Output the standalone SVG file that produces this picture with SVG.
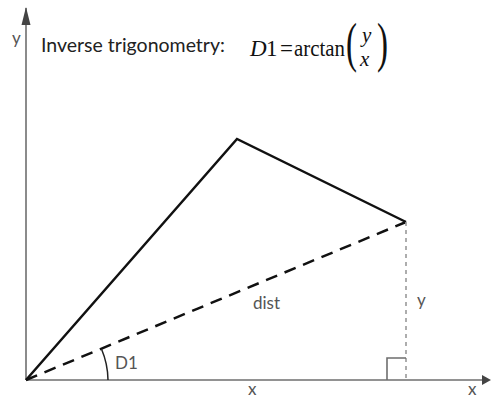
<svg xmlns="http://www.w3.org/2000/svg" width="492" height="400" viewBox="0 0 492 400">
<style>
.axis{stroke:#6e6e6e;stroke-width:1.6;fill:none}
.lbl{font-family:Lato,"Liberation Sans",sans-serif;font-size:17px;fill:#555}
.math{font-family:"Liberation Serif","Times New Roman",serif;fill:#111}
</style>
<rect width="492" height="400" fill="#fff"/>
<g id="axes">
<path class="axis" d="M26,380 L26,8"/>
<path d="M26,7 L21.5,25 L30.5,25 Z" fill="#444"/>
<path class="axis" d="M26,380 L484,380"/>
<path d="M491,380 L482,375 L482,385 Z" fill="#444"/>
<text class="lbl" x="12" y="44">y</text>
<text class="lbl" x="468" y="395">x</text>
</g>
<g id="title">
<text x="41" y="52" font-family="Lato,'Liberation Sans',sans-serif" font-size="19.5" fill="#222">Inverse trigonometry:</text>
<text class="math" x="250" y="56" font-size="23" font-style="italic">D</text>
<text class="math" x="266" y="56" font-size="23">1</text>
<text class="math" x="280" y="56" font-size="23">=</text>
<text class="math" x="294" y="56" font-size="23" textLength="51" lengthAdjust="spacingAndGlyphs">arctan</text>
<text class="math" x="346" y="61" font-size="55" transform="translate(346,0) scale(0.6,1) translate(-346,0)">(</text>
<text class="math" x="362" y="42" font-size="21" font-style="italic">y</text>
<text class="math" x="360" y="66" font-size="21" font-style="italic">x</text>
<text class="math" x="377" y="61" font-size="55" transform="translate(377,0) scale(0.6,1) translate(-377,0)">)</text>
</g>
<g id="connectors">
<path d="M26,380 L237,139 L406,222" fill="none" stroke="#111" stroke-width="2.5" stroke-linejoin="miter"/>
<path d="M26,380 L406,222" fill="none" stroke="#111" stroke-width="2.5" stroke-dasharray="12,8"/>
<path d="M406,222 L406,380" fill="none" stroke="#999" stroke-width="1.6" stroke-dasharray="4,4"/>
<path d="M387,380 L387,358 L406,358" class="axis"/>
<path d="M108,380 A82,82 0 0 0 101.5,349" fill="none" stroke="#222" stroke-width="1.5"/>
</g>
<g id="labels">
<text class="lbl" x="115" y="369">D1</text>
<text class="lbl" x="253" y="309">dist</text>
<text class="lbl" x="417" y="306">y</text>
<text class="lbl" x="248" y="395">x</text>
</g>
</svg>
